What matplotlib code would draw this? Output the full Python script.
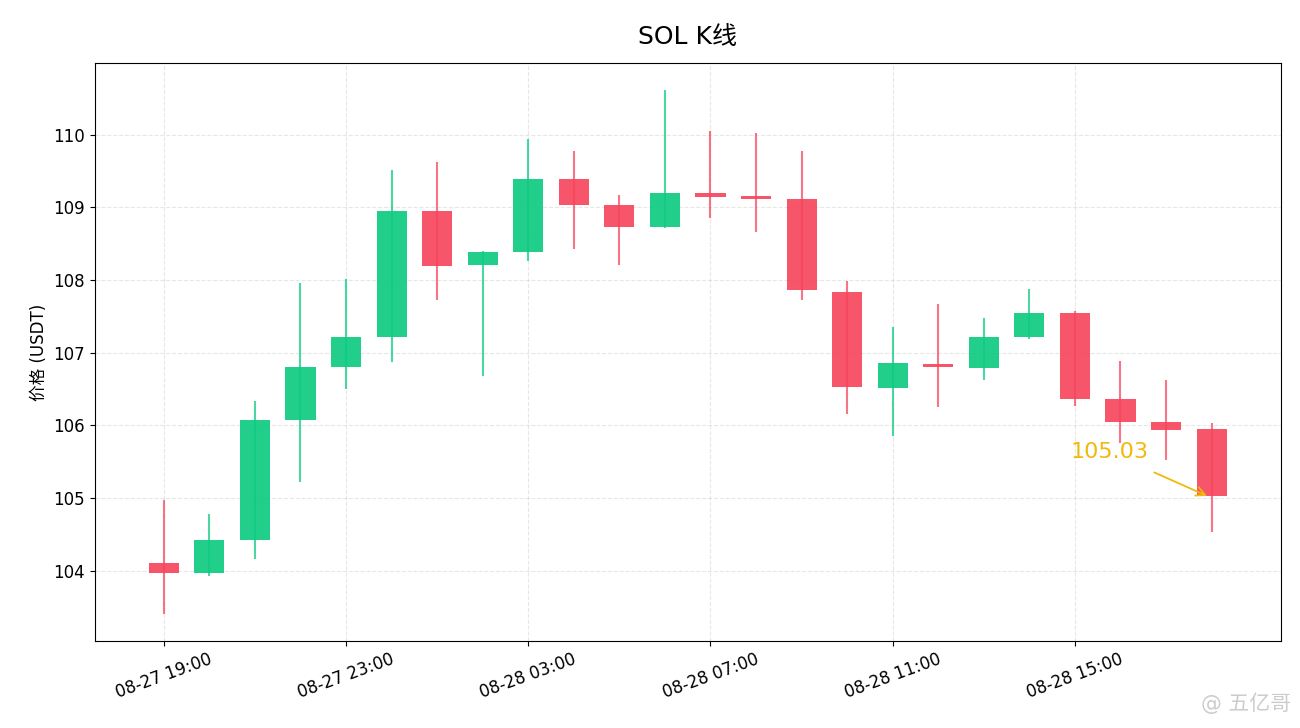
import pandas as pd
import matplotlib
matplotlib.use("Agg")
import matplotlib.pyplot as plt
import matplotlib.dates as mdates

plt.rcParams['font.family'] = ['DejaVu Sans', 'Noto Sans CJK SC']

# hourly SOL candles
times = pd.date_range("2024-08-27 19:00", periods=24, freq="h")
opens = [104.11, 103.97, 104.43, 106.07, 106.80, 107.21, 108.95, 108.20, 108.39, 109.39,
         109.03, 108.73, 109.20, 109.15, 109.11, 107.84, 106.52, 106.84, 106.79, 107.21,
         107.54, 106.36, 106.05, 105.95]
closes = [103.97, 104.43, 106.07, 106.80, 107.21, 108.95, 108.19, 108.39, 109.39, 109.03,
          108.73, 109.20, 109.14, 109.11, 107.86, 106.53, 106.86, 106.81, 107.21, 107.54,
          106.37, 106.05, 105.94, 105.03]
highs = [104.98, 104.78, 106.33, 107.96, 108.02, 109.51, 109.63, 108.40, 109.94, 109.78,
         109.17, 110.62, 110.05, 110.02, 109.77, 107.99, 107.36, 107.67, 107.48, 107.87,
         107.57, 106.89, 106.63, 106.03]
lows = [103.40, 103.93, 104.16, 105.22, 106.50, 106.87, 107.72, 106.68, 108.26, 108.43,
        108.20, 108.72, 108.86, 108.66, 107.72, 106.16, 105.86, 106.26, 106.63, 107.19,
        106.27, 105.76, 105.52, 104.53]
tick_times = times[::4]

up_color = '#0ecb81'
down_color = '#f6465d'
gold = '#f0b90b'

fig, ax = plt.subplots(figsize=(13, 7.28), dpi=100)
fig.subplots_adjust(left=0.073, right=0.985, top=0.913, bottom=0.12)

width = 0.66 / 24
for t, o, c, h, l in zip(times, opens, closes, highs, lows):
    col = up_color if c >= o else down_color
    ax.vlines(t, l, h, color=col, linewidth=1.5, alpha=0.75, zorder=2)
    ax.bar(t, max(abs(c - o), 0.04), bottom=min(o, c), width=width,
           color=col, alpha=0.92, zorder=3)

ax.set_xticks(tick_times)
ax.xaxis.set_major_formatter(mdates.DateFormatter('%m-%d %H:%M'))
plt.setp(ax.get_xticklabels(), rotation=20, ha='center', fontsize=12)
ax.tick_params(axis='y', labelsize=12)

ax.grid(True, linestyle='--', alpha=0.3)
ax.set_ylabel('价格 (USDT)', fontsize=12)
ax.set_title('SOL K线', fontsize=18, pad=14)

last_t = times[-1]
ax.annotate(f'{closes[-1]:.2f}', xy=(last_t - pd.Timedelta(minutes=6), closes[-1]),
            xytext=(last_t - pd.Timedelta(minutes=135), closes[-1] + 0.6),
            color=gold, fontsize=16, ha='center', va='center',
            arrowprops=dict(arrowstyle='->', color=gold, lw=1.3,
                            shrinkA=13, shrinkB=0))

fig.text(0.993, 0.034, '@ 五亿哥', color='#cccccc', fontsize=15, ha='right', va='center')

fig.savefig('out.png')
